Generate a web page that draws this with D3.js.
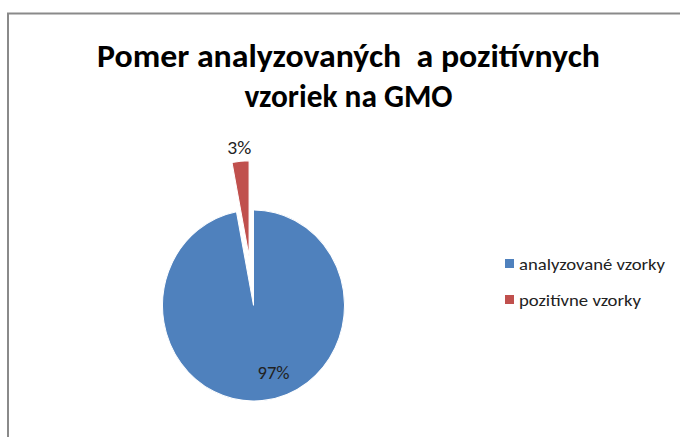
<!DOCTYPE html>
<html>
<head>
<meta charset="utf-8">
<script src="https://cdn.jsdelivr.net/npm/d3@7"></script>
<style>
  body { margin: 0; background: #fff; }
  text { font-family: Carlito, Calibri, Lato, sans-serif; white-space: pre; }
</style>
</head>
<body>
<script>

// data
var categories = ["analyzované vzorky", "pozitívne vzorky"];
var values = [97, 3];
var labels = ["97%", "3%"];
var titleLines = ["Pomer analyzovaných  a pozitívnych", "vzoriek na GMO"];
var colors = ["#4F81BD", "#C0504D"];

var width = 680, height = 437;

var svg = d3.select("body")
  .append("svg")
  .attr("width", width)
  .attr("height", height);

// chart frame (runs off the right and bottom)
svg.append("rect")
  .attr("x", 8)
  .attr("y", 13.5)
  .attr("width", 720)
  .attr("height", 460)
  .attr("fill", "#fff")
  .attr("stroke", "#8a8a8a")
  .attr("stroke-width", 2);

// title
svg.selectAll(".title")
  .data(titleLines)
  .enter()
  .append("text")
  .attr("class", "title")
  .attr("x", 348.5)
  .attr("y", (d, i) => 67 + i * 40)
  .attr("text-anchor", "middle")
  .attr("font-size", 32)
  .attr("font-weight", "bold")
  .attr("fill", "#000")
  .attr("textLength", (d, i) => i == 0 ? 503 : 208)
  .attr("lengthAdjust", "spacingAndGlyphs")
  .text(d => d);

// pie
var cx = 253.5, cy = 305.5;
var radius = 91;
var stretch = 1.05;
var explode = [0, 47];

var pie = d3.pie().sort(null).value(d => d);
var arcs = pie(values);

var arc = d3.arc().innerRadius(0).outerRadius(radius);

function bisector(d) {
  return (d.startAngle + d.endAngle) / 2;
}

var pieG = svg.append("g")
  .attr("transform", `translate(${cx},${cy}) scale(1,${stretch})`);

pieG.selectAll("path")
  .data(arcs)
  .enter()
  .append("path")
  .attr("d", arc)
  .attr("fill", (d, i) => colors[i])
  .attr("stroke", "#fff")
  .attr("stroke-width", 1)
  .attr("transform", (d, i) => {
    var a = bisector(d);
    return `translate(${Math.sin(a) * explode[i]},${-Math.cos(a) * explode[i]})`;
  });

// data labels
var labelRadius = [64, 151];
var labelShift = [14, 0];

svg.selectAll(".lbl")
  .data(arcs)
  .enter()
  .append("text")
  .attr("class", "lbl")
  .attr("x", (d, i) => cx + Math.sin(bisector(d)) * labelRadius[i] + labelShift[i])
  .attr("y", (d, i) => cy - Math.cos(bisector(d)) * labelRadius[i] * stretch)
  .attr("text-anchor", "middle")
  .attr("dominant-baseline", "central")
  .attr("font-size", 19)
  .attr("fill", "#222")
  .attr("textLength", (d, i) => i == 0 ? 32 : 24)
  .attr("lengthAdjust", "spacingAndGlyphs")
  .text((d, i) => labels[i]);

// legend
var legend = svg.append("g")
  .attr("transform", "translate(505,264)");

var rows = legend.selectAll("g")
  .data(categories)
  .enter()
  .append("g")
  .attr("transform", (d, i) => `translate(0,${i * 36})`);

rows.append("rect")
  .attr("x", 0)
  .attr("y", -5)
  .attr("width", 9)
  .attr("height", 9)
  .attr("fill", (d, i) => colors[i]);

rows.append("text")
  .attr("x", 14)
  .attr("y", 5.5)
  .attr("font-size", 17)
  .attr("fill", "#222")
  .attr("textLength", (d, i) => i == 0 ? 146 : 122)
  .attr("lengthAdjust", "spacingAndGlyphs")
  .text(d => d);

</script>
</body>
</html>
